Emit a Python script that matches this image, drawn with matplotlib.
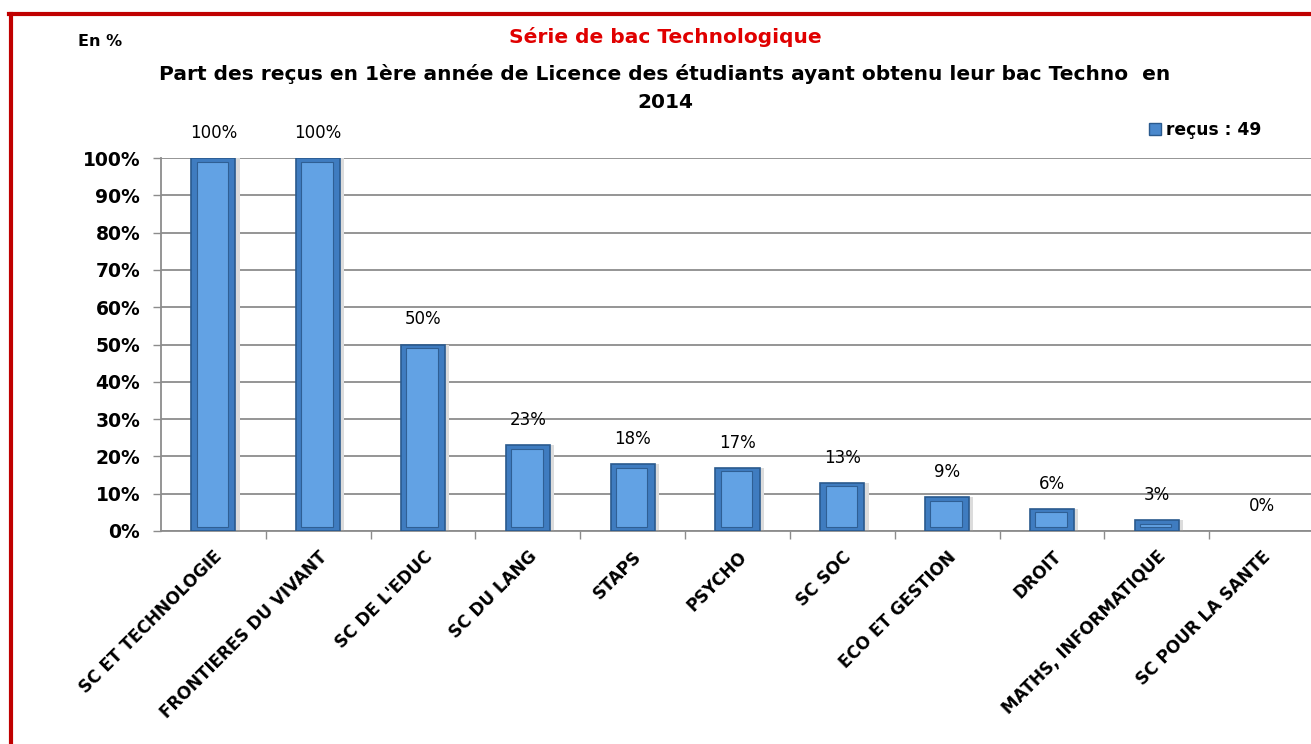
import matplotlib
matplotlib.use("Agg")
import matplotlib.pyplot as plt
from matplotlib.patches import Rectangle
from matplotlib.lines import Line2D
import numpy as np

categories = ["SC ET TECHNOLOGIE", "FRONTIERES DU VIVANT", "SC DE L'EDUC", "SC DU LANG",
              "STAPS", "PSYCHO", "SC SOC", "ECO ET GESTION", "DROIT",
              "MATHS, INFORMATIQUE", "SC POUR LA SANTE"]
values = [100, 100, 50, 23, 18, 17, 13, 9, 6, 3, 0]
yticks = [0, 10, 20, 30, 40, 50, 60, 70, 80, 90, 100]
series_name = "reçus : 49"
title_red = "Série de bac Technologique"
title_main = "Part des reçus en 1ère année de Licence des étudiants ayant obtenu leur bac Techno  en\n2014"
unit_label = "En %"

plt.rcParams['font.family'] = ['DejaVu Sans']

W, H = 1311, 744
fig = plt.figure(figsize=(W / 100, H / 100), dpi=100)
fig.patch.set_facecolor('white')

ax = fig.add_axes([161 / W, 1 - 531 / H, (1314 - 161) / W, (531 - 158) / H])
x = np.arange(len(categories))
nz = [v > 0 for v in values]

# shadow
ax.bar(x + 0.04, values, width=0.42, color='#dcdcdc', zorder=2)
# outer bar
ax.bar(x, values, width=0.42, color='#3f7cc0', edgecolor='#2a5a8e',
       linewidth=[1.2 if n else 0 for n in nz], zorder=3)
# inner bevel face
inner = [max(v - 2.0, 0) for v in values]
ax.bar(x - 0.01, inner, width=0.30, bottom=[1.0 if n else 0 for n in nz],
       color='#62a2e4', edgecolor='#2f5f94', linewidth=[0.8 if n else 0 for n in nz], zorder=4)

ax.set_xlim(-0.5, len(categories) - 0.5)
ax.set_ylim(0, 100)
ax.set_yticks(yticks)
ax.set_yticklabels([f"{t}%" for t in yticks], fontsize=13.5, fontweight='bold')
ax.yaxis.grid(True, color='#8c8c8c', linewidth=1.3)
ax.set_axisbelow(True)

ax.set_xticks(x)
ax.set_xticklabels(categories, rotation=45, ha='right', rotation_mode='anchor',
                   fontsize=12.2, fontweight='bold')
ax.tick_params(axis='x', which='major', length=0, pad=12)
ax.set_xticks(np.arange(len(categories)) + 0.5, minor=True)
ax.tick_params(axis='x', which='minor', length=6, color='#8c8c8c', width=1)
ax.tick_params(axis='y', length=6, color='#8c8c8c', width=1, pad=9)

for s in ['top', 'right']:
    ax.spines[s].set_visible(False)
for s in ['left', 'bottom']:
    ax.spines[s].set_color('#8c8c8c')
    ax.spines[s].set_linewidth(1.3)

for xi, v in zip(x, values):
    ax.annotate(f"{v}%", (xi, v), xytext=(0, 18), textcoords='offset points',
                ha='center', va='center', fontsize=12)

# titles
fig.text(665 / W, 1 - 37 / H, title_red, color='#e00000', fontsize=14.5, fontweight='bold',
         ha='center', va='center')
fig.text(665 / W, 1 - 88 / H, title_main, color='black', fontsize=14.5, fontweight='bold',
         ha='center', va='center', linespacing=1.65)
fig.text(78 / W, 1 - 42 / H, unit_label, fontsize=11.5, fontweight='bold', ha='left', va='center')

# legend
leg = ax.legend([Rectangle((0, 0), 1, 1, facecolor='#4a88cc', edgecolor='#2a5a8e')], [series_name],
                loc='center left', bbox_to_anchor=(1134 / W, 1 - 130 / H),
                bbox_transform=fig.transFigure, frameon=False, handlelength=0.7,
                handleheight=0.7, handletextpad=0.3, prop={'weight': 'bold', 'size': 12.3})

# red border
fig.add_artist(Line2D([10.5 / W, 10.5 / W], [0, 1 - 13.5 / H], transform=fig.transFigure,
                      color='#c00000', linewidth=3))
fig.add_artist(Line2D([9 / W, 1], [1 - 13.5 / H, 1 - 13.5 / H], transform=fig.transFigure,
                      color='#c00000', linewidth=3))

fig.savefig("out.png", dpi=100)
